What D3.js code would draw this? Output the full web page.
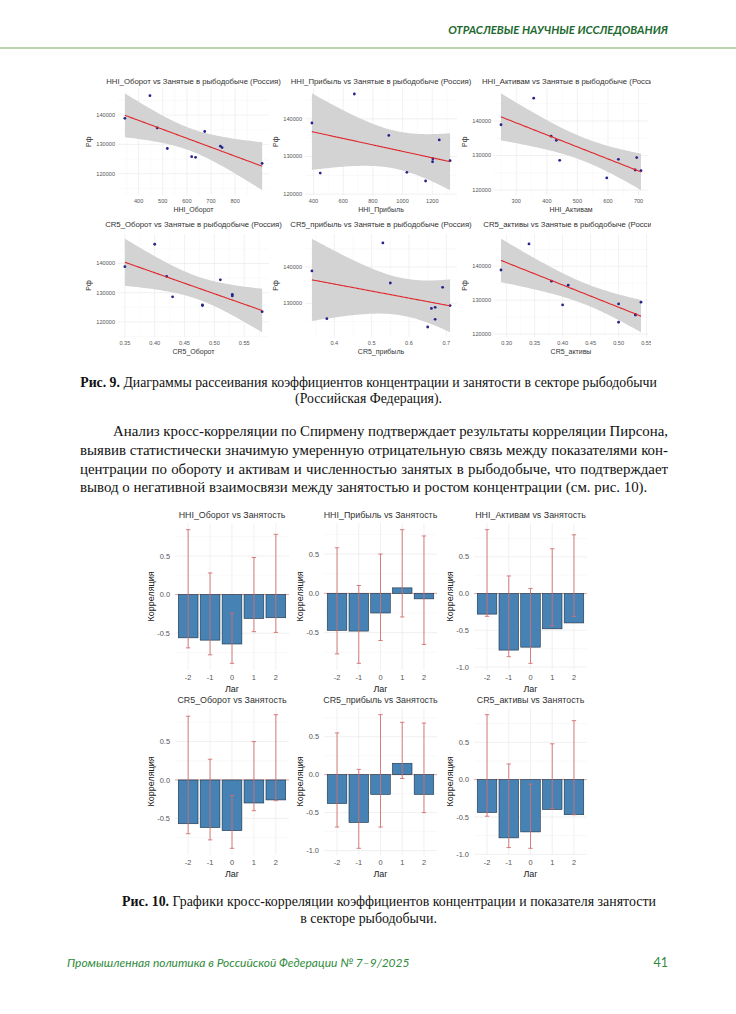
<!DOCTYPE html>
<html>
<head>
<meta charset="utf-8">
<script src="https://cdn.jsdelivr.net/npm/d3@7"></script>
<style>
html, body { margin: 0; padding: 0; background: #fff; }
svg { display: block; }
</style>
</head>
<body>
<svg id="page" width="736" height="1014"></svg>
<script>
// ---- Fig. 9: scatter data (10 years, same employment series in every panel)
var employment = [138900, 146600, 135600, 128600, 125800, 125600, 134400, 129400, 128900, 123500];
var hhiOborot  = [343, 447, 477, 519, 620, 636, 674, 739, 746, 912];
var hhiPribyl  = [389, 675, 907, 1202, 1029, 445, 1247, 1204, 1320, 1155];
var hhiAktivam = [250, 357, 414, 442, 689, 708, 431, 694, 634, 596];
var cr5Oborot  = [0.35, 0.40, 0.42, 0.43, 0.48, 0.48, 0.51, 0.53, 0.53, 0.58];
var cr5Pribyl  = [0.34, 0.53, 0.55, 0.66, 0.38, 0.67, 0.69, 0.71, 0.67, 0.65];
var cr5Aktivy  = [0.29, 0.34, 0.38, 0.40, 0.53, 0.53, 0.41, 0.54, 0.50, 0.50];

var scatterTitles = [
  "HHI_Оборот vs Занятые в рыбодобыче (Россия)",
  "HHI_Прибыль vs Занятые в рыбодобыче (Россия)",
  "HHI_Активам vs Занятые в рыбодобыче (Россия)",
  "CR5_Оборот vs Занятые в рыбодобыче (Россия)",
  "CR5_прибыль vs Занятые в рыбодобыче (Россия)",
  "CR5_активы vs Занятые в рыбодобыче (Россия)"
];
var scatterXTitles = ["HHI_Оборот", "HHI_Прибыль", "HHI_Активам", "CR5_Оборот", "CR5_прибыль", "CR5_активы"];
var scatterXTicks = [
  [400, 500, 600, 700, 800],
  [400, 600, 800, 1000, 1200],
  [300, 400, 500, 600, 700],
  [0.35, 0.40, 0.45, 0.50, 0.55],
  [0.4, 0.5, 0.6, 0.7],
  [0.30, 0.35, 0.40, 0.45, 0.50, 0.55]
];
var scatterXTickLabels = [
  ["400", "500", "600", "700", "800"],
  ["400", "600", "800", "1000", "1200"],
  ["300", "400", "500", "600", "700"],
  ["0.35", "0.40", "0.45", "0.50", "0.55"],
  ["0.4", "0.5", "0.6", "0.7"],
  ["0.30", "0.35", "0.40", "0.45", "0.50", "0.55"]
];
var scatterYTicks = [120000, 130000, 140000];
var scatterYTickLabels = ["120000", "130000", "140000"];
var scatterYTitle = "Рф";

// ---- Fig. 10: cross-correlation by lag
var lags = [-2, -1, 0, 1, 2];
var lagLabels = ["-2", "-1", "0", "1", "2"];
var corrTitles = [
  "HHI_Оборот vs Занятость", "HHI_Прибыль vs Занятость", "HHI_Активам vs Занятость",
  "CR5_Оборот vs Занятость", "CR5_прибыль vs Занятость", "CR5_активы vs Занятость"
];
var corrHhiOborot  = [-0.56, -0.59, -0.64, -0.31, -0.30];
var lowHhiOborot   = [-0.69, -0.78, -0.89, -0.48, -0.49];
var highHhiOborot  = [0.84, 0.28, -0.24, 0.48, 0.78];
var corrHhiPribyl  = [-0.47, -0.48, -0.25, 0.07, -0.07];
var lowHhiPribyl   = [-0.77, -0.89, -0.60, -0.30, -0.65];
var highHhiPribyl  = [0.58, 0.10, 0.50, 0.81, 0.73];
var corrHhiAktivam = [-0.28, -0.77, -0.73, -0.48, -0.40];
var lowHhiAktivam  = [-0.31, -0.86, -0.95, -0.44, -0.31];
var highHhiAktivam = [0.87, 0.24, 0.07, 0.61, 0.80];
var corrCr5Oborot  = [-0.57, -0.62, -0.66, -0.30, -0.26];
var lowCr5Oborot   = [-0.70, -0.78, -0.89, -0.40, -0.27];
var highCr5Oborot  = [0.83, 0.27, -0.20, 0.50, 0.85];
var corrCr5Pribyl  = [-0.38, -0.63, -0.26, 0.15, -0.26];
var lowCr5Pribyl   = [-0.69, -0.97, -0.69, -0.05, -0.50];
var highCr5Pribyl  = [0.55, 0.07, 0.79, 0.69, 0.68];
var corrCr5Aktivy  = [-0.44, -0.78, -0.70, -0.40, -0.47];
var lowCr5Aktivy   = [-0.49, -0.91, -0.92, -0.39, -0.47];
var highCr5Aktivy  = [0.87, 0.21, -0.06, 0.48, 0.79];
var corrTicks = [-1, -0.5, 0, 0.5, 1];
var corrTickLabels = ["-1.0", "-0.5", "0.0", "0.5", "1.0"];

var svg = d3.select("#page");
var SANS = "'Liberation Sans', Arial, sans-serif";
var SERIF = "'Liberation Serif', 'Times New Roman', serif";
var CAL = "Lato, 'Open Sans', sans-serif";

function fitWidth(sel, w) {
  var fs = +sel.attr("font-size");
  var len = sel.node().getComputedTextLength();
  sel.attr("font-size", fs * w / len);
}

function justify(sel, w) {
  var len = sel.node().getComputedTextLength();
  var spaces = sel.text().split(" ").length - 1;
  sel.attr("word-spacing", (w - len) / spaces);
}

// font size that makes a string reach a given width
function sizeFor(str, family, w) {
  var t = svg.append("text").attr("font-family", family).attr("font-size", 10).text(str);
  var fs = 10 * w / t.node().getComputedTextLength();
  t.remove();
  return fs;
}

// ---------- page furniture
svg.append("rect").attr("width", 736).attr("height", 1014).attr("fill", "#fff");

var header = svg.append("text")
  .attr("x", 668).attr("y", 34)
  .attr("text-anchor", "end")
  .attr("font-family", CAL).attr("font-style", "italic").attr("font-weight", "bold")
  .attr("font-size", 10.5).attr("fill", "#1d6a30")
  .text("ОТРАСЛЕВЫЕ НАУЧНЫЕ ИССЛЕДОВАНИЯ");
fitWidth(header, 220);

svg.append("line").attr("x1", 0).attr("x2", 736).attr("y1", 48).attr("y2", 48)
  .attr("stroke", "#79ad5c").attr("stroke-width", 1.2);

// ---------- Fig. 9 scatter panels
var scCols = [[118, 269], [305, 457], [494, 648]];
var scRows = [[88.5, 195], [234, 337]];
var scTitleY = [84, 227];
var scatterXs = [hhiOborot, hhiPribyl, hhiAktivam, cr5Oborot, cr5Pribyl, cr5Aktivy];
var scTitleFs = sizeFor(scatterTitles[0], SANS, 175);

svg.append("clipPath").attr("id", "fig9clip")
  .append("rect").attr("x", 0).attr("y", 60).attr("width", 651).attr("height", 310);

var fig9 = svg.append("g").attr("clip-path", "url(#fig9clip)");

function fitLine(xs, ys) {
  var n = xs.length, mx = d3.mean(xs), my = d3.mean(ys);
  var sxx = d3.sum(xs, function(x) { return (x - mx) * (x - mx); });
  var sxy = d3.sum(xs, function(x, i) { return (x - mx) * (ys[i] - my); });
  var b = sxy / sxx, a = my - b * mx;
  var sse = d3.sum(xs, function(x, i) { var r = ys[i] - (a + b * x); return r * r; });
  return { a: a, b: b, s: Math.sqrt(sse / (n - 2)), n: n, mx: mx, sxx: sxx };
}

function minorOf(ticks, dom) {
  var step = ticks[1] - ticks[0], out = [];
  for (var v = ticks[0] - step / 2; v <= dom[1]; v += step) {
    if (v >= dom[0]) out.push(v);
  }
  return out;
}

scatterXs.forEach(function(xs, k) {
  var col = scCols[k % 3], row = scRows[Math.floor(k / 3)];
  var g = fig9.append("g");
  var fit = fitLine(xs, employment);
  var tval = 2.306; // t(0.975, df = 8)
  var xmin = d3.min(xs), xmax = d3.max(xs);
  var band = d3.range(80).map(function(i) {
    var x = xmin + (xmax - xmin) * i / 79;
    var yh = fit.a + fit.b * x;
    var se = fit.s * Math.sqrt(1 / fit.n + (x - fit.mx) * (x - fit.mx) / fit.sxx);
    return { x: x, y: yh, lo: yh - tval * se, hi: yh + tval * se };
  });
  var xr = xmax - xmin;
  var x = d3.scaleLinear().domain([xmin - 0.05 * xr, xmax + 0.05 * xr]).range(col);
  var ylo = Math.min(d3.min(employment), d3.min(band, function(d) { return d.lo; }));
  var yhi = Math.max(d3.max(employment), d3.max(band, function(d) { return d.hi; }));
  var yr = yhi - ylo;
  var y = d3.scaleLinear().domain([ylo - 0.05 * yr, yhi + 0.05 * yr]).range([row[1], row[0]]);

  var xt = scatterXTicks[k];
  var yt = scatterYTicks.filter(function(v) { return v >= y.domain()[0] && v <= y.domain()[1]; });

  // grid
  g.selectAll(".vmin").data(minorOf(xt, x.domain())).enter().append("line")
    .attr("x1", x).attr("x2", x).attr("y1", row[0]).attr("y2", row[1])
    .attr("stroke", "#f2f2f2").attr("stroke-width", 0.4);
  g.selectAll(".hmin").data(minorOf(scatterYTicks, y.domain())).enter().append("line")
    .attr("y1", y).attr("y2", y).attr("x1", col[0]).attr("x2", col[1])
    .attr("stroke", "#f2f2f2").attr("stroke-width", 0.4);
  g.selectAll(".vmaj").data(xt).enter().append("line")
    .attr("x1", x).attr("x2", x).attr("y1", row[0]).attr("y2", row[1])
    .attr("stroke", "#e8e8e8").attr("stroke-width", 0.6);
  g.selectAll(".hmaj").data(yt).enter().append("line")
    .attr("y1", y).attr("y2", y).attr("x1", col[0]).attr("x2", col[1])
    .attr("stroke", "#e8e8e8").attr("stroke-width", 0.6);

  g.append("path").datum(band)
    .attr("d", d3.area().x(function(d) { return x(d.x); })
      .y0(function(d) { return y(d.lo); }).y1(function(d) { return y(d.hi); }))
    .attr("fill", "#d3d3d3");

  g.selectAll("circle").data(xs).enter().append("circle")
    .attr("cx", function(d) { return x(d); })
    .attr("cy", function(d, i) { return y(employment[i]); })
    .attr("r", 1.4).attr("fill", "#24248c");

  g.append("path").datum(band)
    .attr("d", d3.line().x(function(d) { return x(d.x); }).y(function(d) { return y(d.y); }))
    .attr("fill", "none").attr("stroke", "#e0262b").attr("stroke-width", 1.1);

  // tick labels
  g.selectAll(".xl").data(xt).enter().append("text")
    .attr("x", x).attr("y", row[1] + 8)
    .attr("text-anchor", "middle").attr("font-family", SANS)
    .attr("font-size", 5.6).attr("fill", "#555")
    .text(function(d, i) { return scatterXTickLabels[k][i]; });
  g.selectAll(".yl").data(yt).enter().append("text")
    .attr("x", col[0] - 3).attr("y", function(d) { return y(d) + 2; })
    .attr("text-anchor", "end").attr("font-family", SANS)
    .attr("font-size", 5.6).attr("fill", "#555")
    .text(function(d) { return scatterYTickLabels[scatterYTicks.indexOf(d)]; });

  g.append("text")
    .attr("x", (col[0] + col[1]) / 2).attr("y", row[1] + 17)
    .attr("text-anchor", "middle").attr("font-family", SANS)
    .attr("font-size", 7).attr("fill", "#333")
    .text(scatterXTitles[k]);
  g.append("text")
    .attr("transform", "translate(" + (col[0] - 27) + "," + ((row[0] + row[1]) / 2) + ") rotate(-90)")
    .attr("text-anchor", "middle").attr("font-family", SANS)
    .attr("font-size", 7).attr("fill", "#333")
    .text(scatterYTitle);
  g.append("text")
    .attr("x", (col[0] + col[1]) / 2).attr("y", scTitleY[Math.floor(k / 3)])
    .attr("text-anchor", "middle").attr("font-family", SANS)
    .attr("font-size", scTitleFs).attr("fill", "#333")
    .text(scatterTitles[k]);
});

// ---------- captions and body text
var cap9 = svg.append("text").attr("x", 368.5).attr("y", 387)
  .attr("text-anchor", "middle").attr("font-family", SERIF).attr("font-size", 13.4).attr("fill", "#111");
cap9.append("tspan").attr("font-weight", "bold").text("Рис. 9.");
cap9.append("tspan").text(" Диаграммы рассеивания коэффициентов концентрации и занятости в секторе рыбодобычи");
fitWidth(cap9, 577);
svg.append("text").attr("x", 368.5).attr("y", 403)
  .attr("text-anchor", "middle").attr("font-family", SERIF).attr("font-size", cap9.attr("font-size")).attr("fill", "#111")
  .text("(Российская Федерация).");

var paraLines = [
  "Анализ кросс-корреляции по Спирмену подтверждает результаты корреляции Пирсона,",
  "выявив статистически значимую умеренную отрицательную связь между показателями кон-",
  "центрации по обороту и активам и численностью занятых в рыбодобыче, что подтверждает",
  "вывод о негативной взаимосвязи между занятостью и ростом концентрации (см. рис. 10)."
];
var paraX = [113, 80, 80, 80];
var paraY = [436, 455, 474, 492];
var last = svg.append("text").attr("x", paraX[3]).attr("y", paraY[3])
  .attr("font-family", SERIF).attr("font-size", 15.5).attr("fill", "#111").text(paraLines[3]);
fitWidth(last, 568);
var paraFs = last.attr("font-size");
paraLines.slice(0, 3).forEach(function(s, i) {
  var t = svg.append("text").attr("x", paraX[i]).attr("y", paraY[i])
    .attr("font-family", SERIF).attr("font-size", paraFs).attr("fill", "#111").text(s);
  justify(t, 668 - paraX[i]);
});

// ---------- Fig. 10 bar panels
var brCols = [[175, 289], [324, 437], [474, 587]];
var brRows = [[523, 670], [708, 855]];
var brTitleFs = sizeFor(corrTitles[0], SANS, 107);
var corrSets = [
  [corrHhiOborot, lowHhiOborot, highHhiOborot],
  [corrHhiPribyl, lowHhiPribyl, highHhiPribyl],
  [corrHhiAktivam, lowHhiAktivam, highHhiAktivam],
  [corrCr5Oborot, lowCr5Oborot, highCr5Oborot],
  [corrCr5Pribyl, lowCr5Pribyl, highCr5Pribyl],
  [corrCr5Aktivy, lowCr5Aktivy, highCr5Aktivy]
];

corrSets.forEach(function(set, k) {
  var col = brCols[k % 3], row = brRows[Math.floor(k / 3)];
  var g = svg.append("g");
  var corr = set[0], lo = set[1], hi = set[2];
  var ymin = Math.min(0, d3.min(corr), d3.min(lo)), ymax = Math.max(0, d3.max(corr), d3.max(hi));
  var yr = ymax - ymin;
  var y = d3.scaleLinear().domain([ymin - 0.05 * yr, ymax + 0.05 * yr]).range([row[1], row[0]]);
  var x = d3.scaleLinear().domain([-2.6, 2.6]).range(col);
  var yt = corrTicks.filter(function(v) { return v >= y.domain()[0] && v <= y.domain()[1]; });
  var ymin2 = corrTicks.map(function(v) { return v + 0.25; })
    .concat([corrTicks[0] - 0.25])
    .filter(function(v) { return v >= y.domain()[0] && v <= y.domain()[1]; });

  g.selectAll(".hmin").data(ymin2).enter().append("line")
    .attr("y1", y).attr("y2", y).attr("x1", col[0]).attr("x2", col[1])
    .attr("stroke", "#f3f3f3").attr("stroke-width", 0.5);
  g.selectAll(".hmaj").data(yt).enter().append("line")
    .attr("y1", y).attr("y2", y).attr("x1", col[0]).attr("x2", col[1])
    .attr("stroke", "#e9e9e9").attr("stroke-width", 0.7);
  g.selectAll(".vmaj").data(lags).enter().append("line")
    .attr("x1", x).attr("x2", x).attr("y1", row[0]).attr("y2", row[1])
    .attr("stroke", "#e9e9e9").attr("stroke-width", 0.7);

  g.append("line").attr("x1", col[0]).attr("x2", col[1]).attr("y1", y(0)).attr("y2", y(0))
    .attr("stroke", "#e3a29c").attr("stroke-width", 0.9);

  g.selectAll("rect").data(corr).enter().append("rect")
    .attr("x", function(d, i) { return x(lags[i] - 0.45); })
    .attr("width", x(0.45) - x(-0.45))
    .attr("y", function(d) { return y(Math.max(0, d)); })
    .attr("height", function(d) { return Math.abs(y(d) - y(0)); })
    .attr("fill", "#4682b4").attr("stroke", "#1f3142").attr("stroke-width", 0.6);

  var eb = g.selectAll(".eb").data(lags).enter().append("g").attr("stroke", "#d26f70").attr("stroke-width", 0.9);
  eb.append("line")
    .attr("x1", x).attr("x2", x)
    .attr("y1", function(d, i) { return y(hi[i]); }).attr("y2", function(d, i) { return y(lo[i]); });
  eb.append("line")
    .attr("x1", function(d) { return x(d - 0.1); }).attr("x2", function(d) { return x(d + 0.1); })
    .attr("y1", function(d, i) { return y(hi[i]); }).attr("y2", function(d, i) { return y(hi[i]); });
  eb.append("line")
    .attr("x1", function(d) { return x(d - 0.1); }).attr("x2", function(d) { return x(d + 0.1); })
    .attr("y1", function(d, i) { return y(lo[i]); }).attr("y2", function(d, i) { return y(lo[i]); });

  g.selectAll(".xl").data(lags).enter().append("text")
    .attr("x", x).attr("y", row[1] + 10)
    .attr("text-anchor", "middle").attr("font-family", SANS)
    .attr("font-size", 7.4).attr("fill", "#555")
    .text(function(d, i) { return lagLabels[i]; });
  g.selectAll(".yl").data(yt).enter().append("text")
    .attr("x", col[0] - 5).attr("y", function(d) { return y(d) + 2.6; })
    .attr("text-anchor", "end").attr("font-family", SANS)
    .attr("font-size", 7.4).attr("fill", "#555")
    .text(function(d) { return corrTickLabels[corrTicks.indexOf(d)]; });

  g.append("text")
    .attr("x", (col[0] + col[1]) / 2).attr("y", row[1] + 22)
    .attr("text-anchor", "middle").attr("font-family", SANS)
    .attr("font-size", 9).attr("fill", "#222")
    .text("Лаг");
  g.append("text")
    .attr("transform", "translate(" + (col[0] - 21) + "," + ((row[0] + row[1]) / 2) + ") rotate(-90)")
    .attr("text-anchor", "middle").attr("font-family", SANS)
    .attr("font-size", 9).attr("fill", "#222")
    .text("Корреляция");
  g.append("text")
    .attr("x", (col[0] + col[1]) / 2).attr("y", row[0] - 5)
    .attr("text-anchor", "middle").attr("font-family", SANS)
    .attr("font-size", brTitleFs).attr("fill", "#333")
    .text(corrTitles[k]);
});

var cap10 = svg.append("text").attr("x", 389).attr("y", 906)
  .attr("text-anchor", "middle").attr("font-family", SERIF).attr("font-size", 13.4).attr("fill", "#111");
cap10.append("tspan").attr("font-weight", "bold").text("Рис. 10.");
cap10.append("tspan").text(" Графики кросс-корреляции коэффициентов концентрации и показателя занятости");
fitWidth(cap10, 534);
svg.append("text").attr("x", 368.5).attr("y", 923)
  .attr("text-anchor", "middle").attr("font-family", SERIF).attr("font-size", cap10.attr("font-size")).attr("fill", "#111")
  .text("в секторе рыбодобычи.");

// ---------- footer
var foot = svg.append("text").attr("x", 67).attr("y", 967)
  .attr("font-family", CAL).attr("font-style", "italic")
  .attr("font-size", 12).attr("fill", "#2f8a3c")
  .text("Промышленная политика в Российской Федерации № 7–9/2025");
fitWidth(foot, 343);
svg.append("text").attr("x", 668).attr("y", 967).attr("text-anchor", "end")
  .attr("font-family", CAL).attr("font-size", 12.5).attr("fill", "#2f8a3c")
  .text("41");
</script>
</body>
</html>
